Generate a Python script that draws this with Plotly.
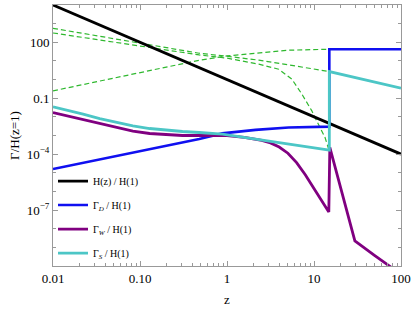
import plotly.graph_objects as go

# ---- data ----
z_H = [0.01, 0.1, 1, 10, 100]
H = [1e4, 100, 1, 0.01, 1e-4]

z_D = [0.01, 0.069, 0.48, 0.88, 2.13, 5.1, 14.7, 15.0, 15.0, 100]
G_D = [1.6e-5, 1.0e-4, 6.5e-4, 1.3e-3, 2.0e-3, 2.7e-3, 3.0e-3, 3.0e-3, 42, 42]

z_W = [0.01, 0.0144, 0.0222, 0.0344, 0.0535, 0.0828, 0.129, 0.199, 0.308, 0.479,
       1.0, 1.585, 2.51, 3.16, 3.98, 5.01, 6.31, 7.94, 10.0, 12.6, 14.8,
       15.2, 29.5, 50, 77, 100]
G_W = [0.017, 0.0114, 0.0069, 0.0042, 0.0025, 0.0017, 0.00128, 0.00109, 0.001, 0.001,
       9.8e-4, 7.9e-4, 5.4e-4, 4.0e-4, 2.4e-4, 1.12e-4, 3.5e-5, 7.9e-6, 1.4e-6, 2.5e-7, 7.9e-8,
       2.3e-4, 2.2e-9, 3.6e-10, 8.5e-11, 3.6e-11]

z_S = [0.01, 0.0144, 0.0222, 0.0344, 0.0535, 0.0828, 0.129, 0.199, 0.308, 0.479,
       0.883, 2.13, 5.12, 14.7, 15.0, 15.0, 100]
G_S = [0.0347, 0.0238, 0.014, 0.0081, 0.005, 0.0033, 0.00237, 0.00195, 0.00164, 0.00145,
       0.00119, 6.4e-4, 3.5e-4, 1.65e-4, 1.65e-4, 2.7, 0.35]

z_eqA = [0.01, 0.1, 0.479, 1, 2.32, 5.12, 15]
eqA = [562, 89, 25.9, 17.8, 11, 6.1, 2.7]

z_eqB = [0.01, 0.1, 0.479, 1, 2.32, 3.93, 5.57, 7.26, 9.44, 11.2, 13.4, 14.7]
eqB = [316, 63, 21, 14.1, 6.7, 3.6, 1.05, 0.165, 0.021, 0.0041, 7.8e-4, 1.95e-4]

z_eqC = [0.01, 0.1, 0.479, 1, 2.32, 5.12, 15]
eqC = [0.248, 2.34, 10.9, 18.5, 27.9, 37.5, 42.4]

y_tickvals = [1e-7, 1e-4, 0.1, 100]
y_ticktext = ["10<sup>\u22127</sup>", "10<sup>\u22124</sup>", "0.1", "100"]
x_tickvals = [0.01, 0.1, 1, 10, 100]
x_ticktext = ["0.01", "0.10", "1", "10", "100"]

GREEN = "#2fb82f"
FONT = "Liberation Serif"

fig = go.Figure()
for zz, yy in [(z_eqA, eqA), (z_eqB, eqB), (z_eqC, eqC)]:
    fig.add_trace(go.Scatter(x=zz, y=yy, mode="lines", showlegend=False,
                             line=dict(color=GREEN, width=1.2, dash="5px,3px")))

fig.add_trace(go.Scatter(x=z_H, y=H, mode="lines", name="H(z) / H(1)",
                         legendgroup="a", line=dict(color="black", width=2.8)))
fig.add_trace(go.Scatter(x=z_D, y=G_D, mode="lines", name="\u0393<sub><i>D</i></sub> / H(1)",
                         legendgroup="b", line=dict(color="#1010f0", width=2.6)))
fig.add_trace(go.Scatter(x=z_W, y=G_W, mode="lines", name="\u0393<sub><i>W</i></sub> / H(1)",
                         legendgroup="c", line=dict(color="#800080", width=2.8)))
fig.add_trace(go.Scatter(x=z_S, y=G_S, mode="lines", name="\u0393<sub><i>S</i></sub> / H(1)",
                         legendgroup="d", line=dict(color="#4cc6c6", width=2.8)))

x_minor = [m * 10 ** e for e in range(-2, 2) for m in range(2, 10)]
y_minor = [10.0 ** e for e in range(-10, 5)]

axis_common = dict(showline=True, linecolor="#999999", linewidth=1, mirror="ticks",
                   ticks="inside", ticklen=5, tickcolor="#999999", showgrid=False,
                   zeroline=False, tickfont=dict(family=FONT, size=13, color="black"))

fig.update_xaxes(type="log", range=[-2, 2], tickvals=x_tickvals, ticktext=x_ticktext,
                 minor=dict(tickvals=x_minor, ticks="inside", ticklen=3, tickcolor="#999999"),
                 title=dict(text="z", font=dict(family=FONT, size=13, color="black"), standoff=10),
                 **axis_common)
fig.update_yaxes(type="log", range=[-10, 4], tickvals=y_tickvals, ticktext=y_ticktext,
                 minor=dict(tickvals=y_minor, ticks="inside", ticklen=3, tickcolor="#999999"),
                 title=dict(text="\u0393/H(z=1)", font=dict(family=FONT, size=13, color="black"), standoff=4),
                 **axis_common)

fig.update_layout(
    width=415, height=309,
    margin=dict(l=53, r=12, t=4, b=43),
    paper_bgcolor="white", plot_bgcolor="white",
    font=dict(family=FONT, size=13, color="black"),
    legend=dict(x=0.0, y=0.381, xanchor="left", yanchor="top",
                bgcolor="rgba(0,0,0,0)", tracegroupgap=5,
                font=dict(family=FONT, size=10, color="black")),
)

fig.write_html("out.html", config={"displayModeBar": False},
               post_script="document.body.style.margin='0';document.body.style.padding='0';")
